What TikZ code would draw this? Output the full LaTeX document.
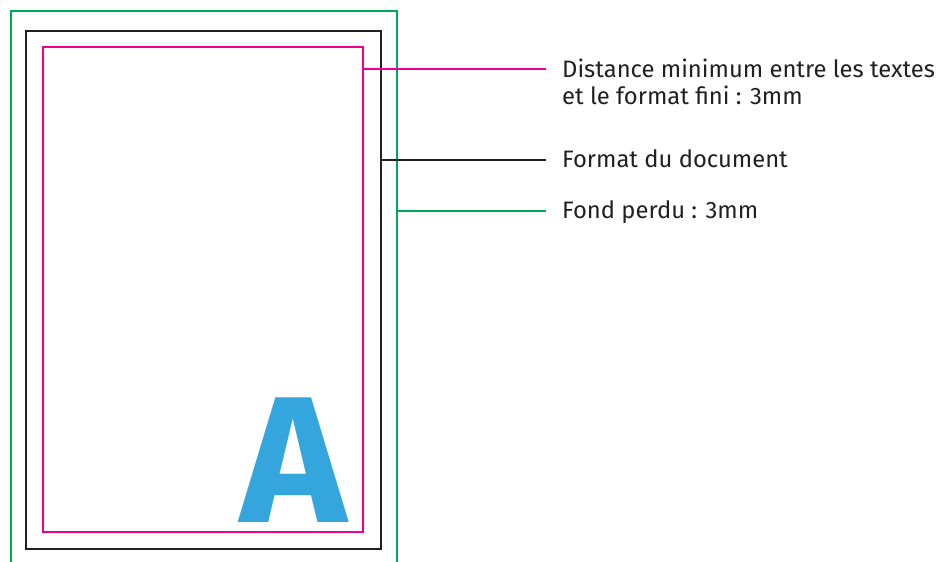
\documentclass[tikz,border=0pt]{standalone}
\usepackage{fontspec}
\setmainfont{Fira Sans}
\newfontfamily\lettrefont{Fira Sans}
\usetikzlibrary{positioning}
\definecolor{fondvert}{RGB}{0,166,81}
\definecolor{formatnoir}{RGB}{35,31,32}
\definecolor{margerose}{RGB}{236,0,140}
\definecolor{lettrebleu}{RGB}{53,166,221}
\tikzset{
  cadre/.style={line width=2.5pt},
  repere/.style={line width=2pt},
  legende/.style={text=formatnoir, font=\fontsize{23.8}{27}\selectfont, align=left,
    inner xsep=16pt, inner ysep=0pt, anchor=base west},
}
\begin{document}
\begin{tikzpicture}[x=1pt,y=-1pt]
  \useasboundingbox (0,0) rectangle (938,562);
  % cadres
  \draw[cadre,fondvert] (11,562) -- (11,11) -- (397,11) -- (397,562);
  \draw[cadre,formatnoir] (26,31) rectangle (381,549);
  \draw[cadre,margerose] (43,47) rectangle (363,532);
  \node[text=lettrebleu, font=\lettrefont\bfseries\fontsize{180}{180}\selectfont,
    anchor=base, inner sep=0pt, text depth=0pt, text height=125pt] (lettre) at (294,522) {A};

  % legendes
  \node[legende] (marge) at (546,104) {Distance minimum entre les textes\\et le format fini : 3mm};
  \node[legende] (format) at (546,167) {Format du document};
  \node[legende] (fond) at (546,218) {Fond perdu : 3mm};
  \coordinate (bordmarge) at (363,69);
  \coordinate (bordformat) at (381,160);
  \coordinate (bordfond) at (397,211);
  \draw[repere,margerose] (bordmarge) -- (bordmarge -| marge.west);
  \draw[repere,formatnoir] (bordformat) -- (bordformat -| format.west);
  \draw[repere,fondvert] (bordfond) -- (bordfond -| fond.west);
\end{tikzpicture}
\end{document}
